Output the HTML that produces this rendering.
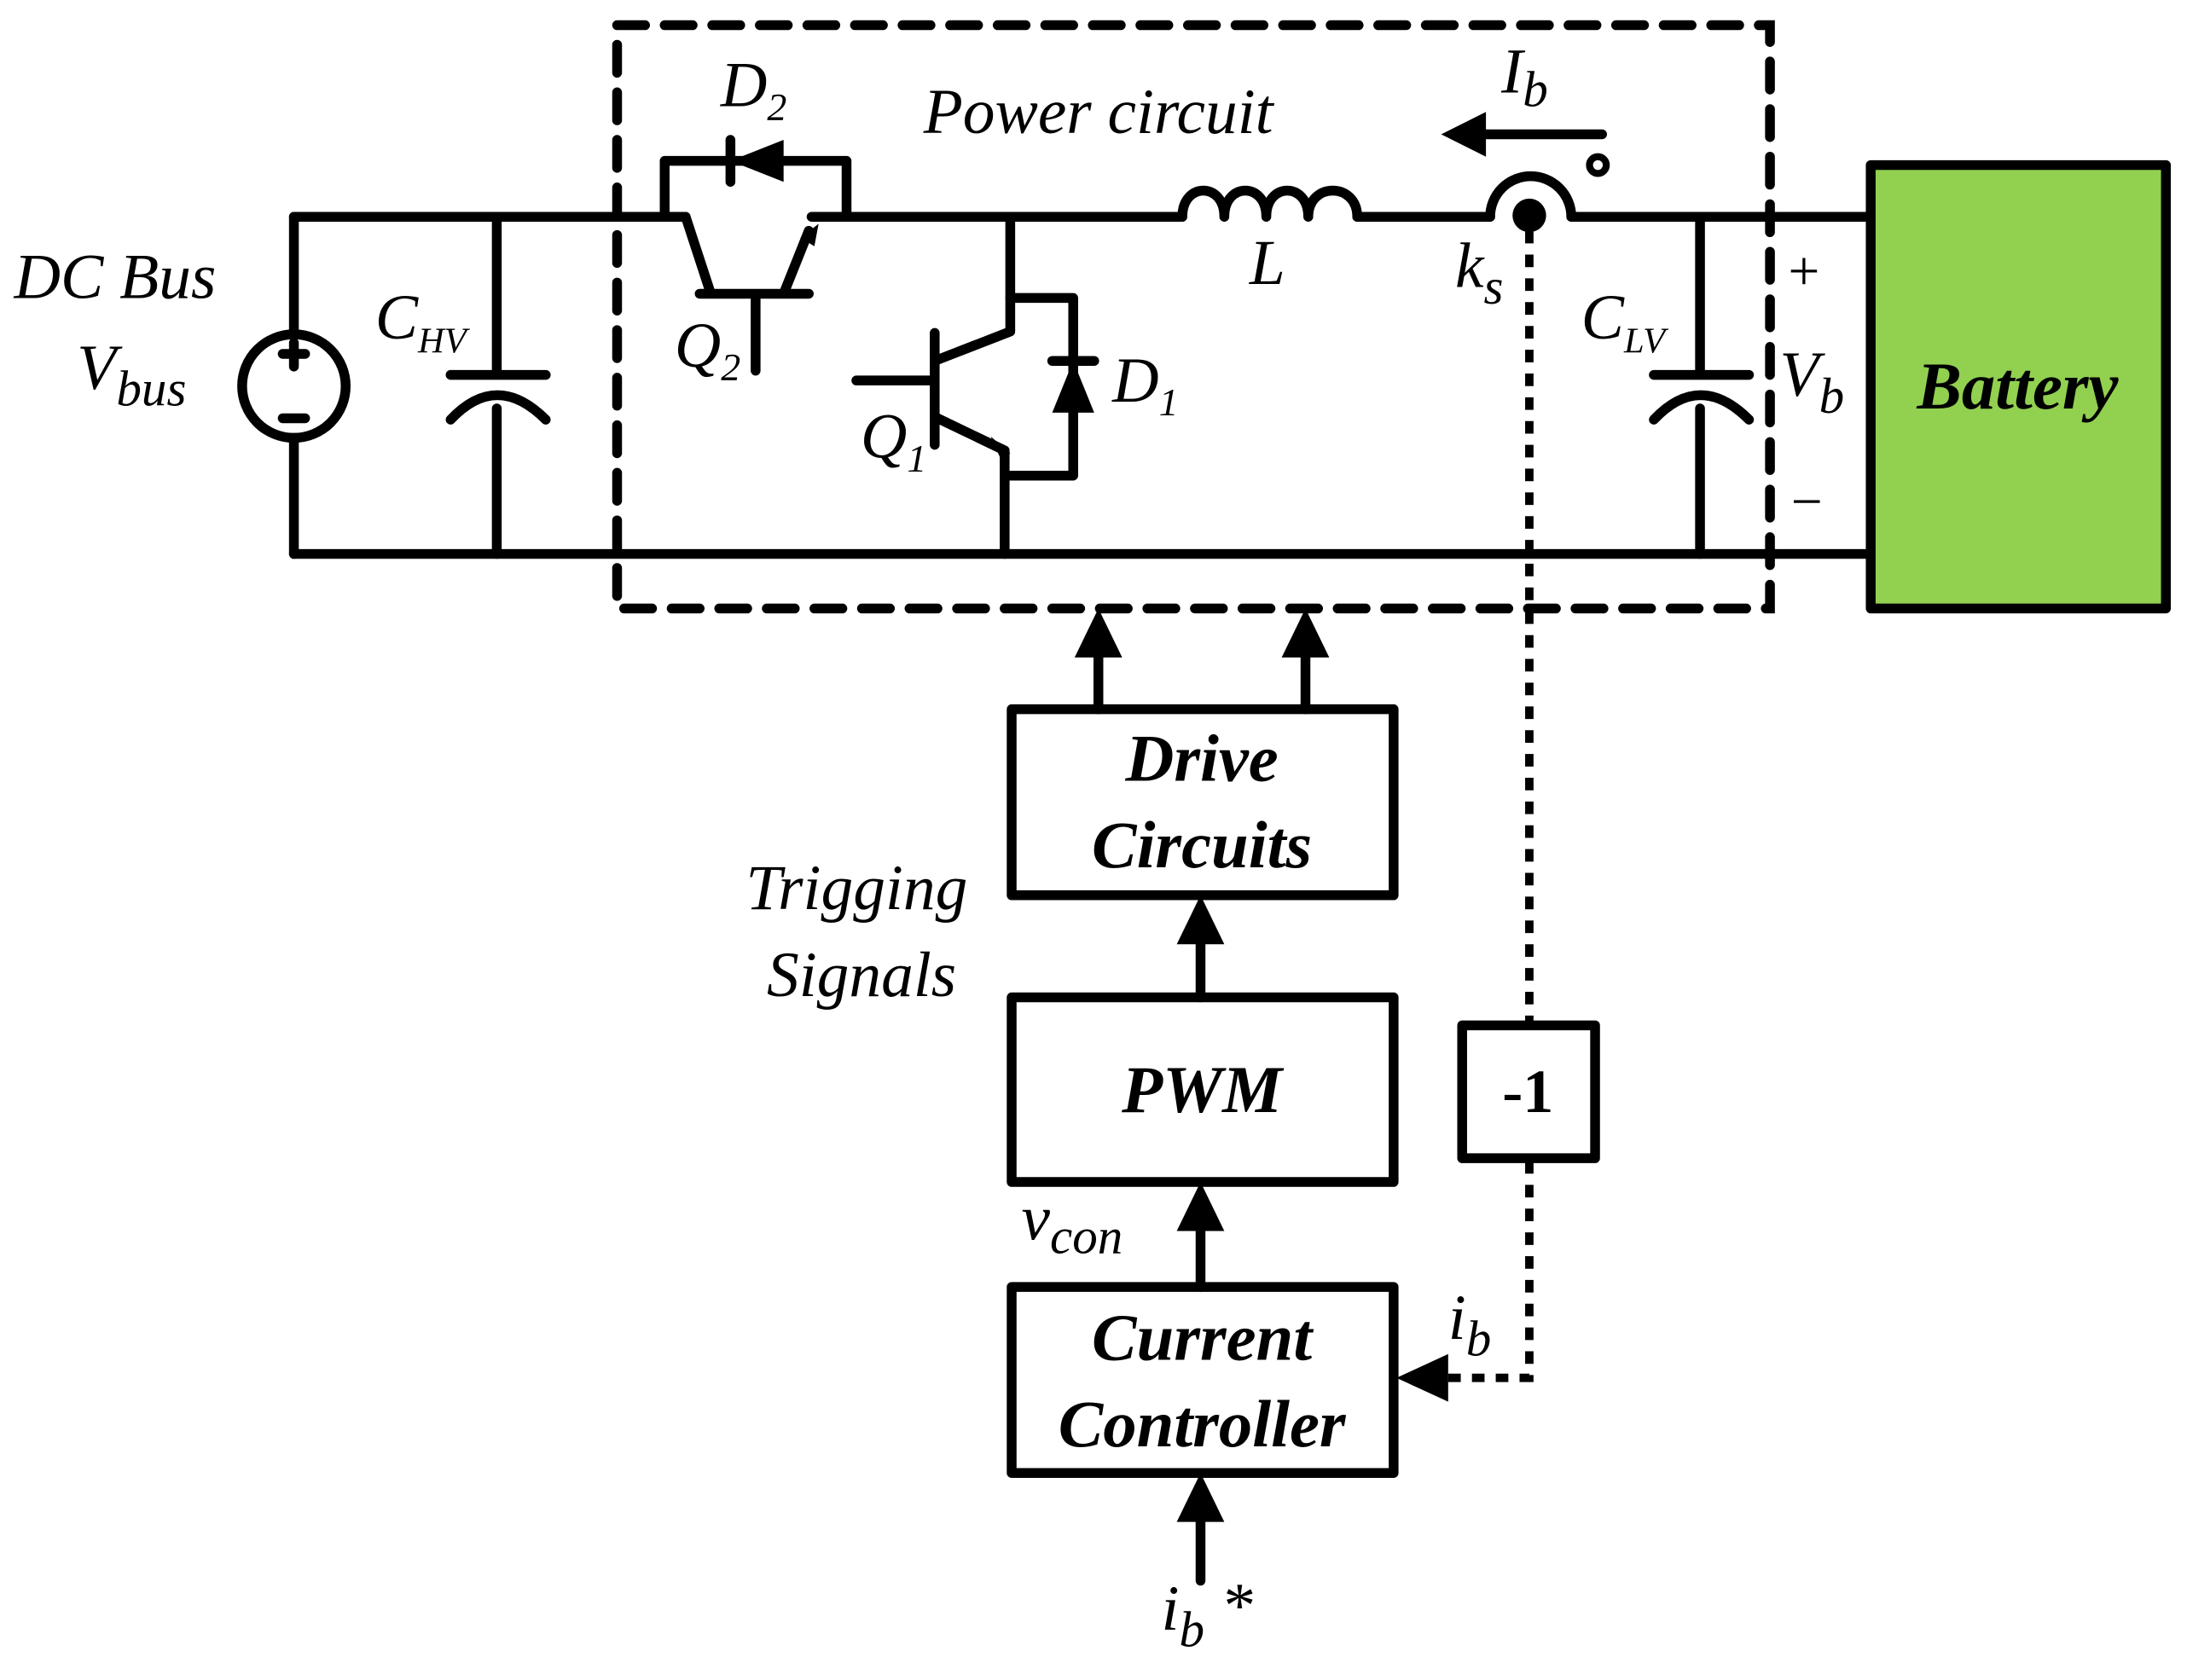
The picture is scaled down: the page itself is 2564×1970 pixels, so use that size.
<!DOCTYPE html>
<html><head><style>html,body{margin:0;padding:0;background:#fff}svg{display:block}svg text{font-family:"Liberation Serif","Times New Roman",serif}</style></head>
<body>
<svg width="2564" height="1970" viewBox="0 0 1563 1201" xmlns="http://www.w3.org/2000/svg">
<g stroke="#000" stroke-width="7" fill="none" stroke-linecap="round" stroke-linejoin="round">
<path d="M210 155 H490 M580 155 H845 M970 155 H1065 M1123 155 H1335"/>
<path d="M210 396 H1335"/>
<path d="M210 155 V238 M210 314 V396"/>
<circle cx="210" cy="276" r="37"/>
<path d="M210 245 V262 M202 253 H218 M202 299 H218"/>
<path d="M355 155 V266 M322 268 H390 M355 292 V396"/>
<path d="M322 300 Q355 265 390 300"/>
<path d="M475 155 V115 H605 V155"/>
<path d="M522 100 V130"/>
<path d="M490 155 L508 210 M500 210 H578 M540 210 V265 M560 210 L578 165"/>
<path d="M722 155 V237 L668 258 M668 238 V318 M612 272 H668 M668 298 L718 322 V396"/>
<path d="M722 213 H767 V340 H722"/>
<path d="M752 258 H782"/>
<path d="M845 155 C845 130 875 130 875 155 C875 130 905 130 905 155 C905 130 935 130 935 155 C935 130 970 130 970 155"/>
<path d="M1065 155 A29 29 0 0 1 1123 155"/>
<circle cx="1142" cy="118" r="6" stroke-width="5"/>
<path d="M1145 96 H1060"/>
<path d="M1215 155 V266 M1182 268 H1250 M1215 292 V396"/>
<path d="M1182 300 Q1215 265 1250 300"/>
<rect x="1337" y="118" width="211" height="317" fill="#92d050"/>
<rect x="723" y="507" width="273" height="133" fill="#fff"/>
<rect x="723" y="713" width="273" height="132" fill="#fff"/>
<rect x="723" y="920" width="273" height="133" fill="#fff"/>
<rect x="1045" y="733" width="95" height="95" fill="#fff"/>
<path d="M785 507 V460 M933 507 V460 M858 713 V665 M858 920 V870 M858 1130 V1078"/>
</g>
<rect x="441" y="18" width="824" height="417" fill="none" stroke="#000" stroke-width="7" stroke-dasharray="20 14" stroke-linecap="round"/>
<path d="M1093 165 V730 M1093 830 V985 H1030" fill="none" stroke="#000" stroke-width="6" stroke-dasharray="9 8"/>
<g fill="#000">
<polygon points="522,115 560,100 560,130"/>
<polygon points="767,258 752,295 782,295"/>
<polygon points="585,160 572,170 582,176"/>
<polygon points="722,324 708,312 716,330"/>
<circle cx="1093" cy="154" r="12"/>
<polygon points="1030,96 1062,80 1062,112"/>
<polygon points="785,435 768,470 802,470"/>
<polygon points="933,435 916,470 950,470"/>
<polygon points="858,640 841,675 875,675"/>
<polygon points="858,845 841,880 875,880"/>
<polygon points="858,1053 841,1088 875,1088"/>
<polygon points="998,985 1035,968 1035,1002"/>
</g>
<g font-style="italic" font-size="46" fill="#000">
<text x="10" y="213">DC  Bus</text>
<text x="55" y="278">V<tspan font-size="36" dy="12">bus</tspan></text>
<text x="268" y="242">C<tspan font-size="26" dy="10">HV</tspan></text>
<text x="515" y="76">D<tspan font-size="28" dy="10">2</tspan></text>
<text x="660" y="95">Power circuit</text>
<text x="1073" y="66">I<tspan font-size="36" dy="10">b</tspan></text>
<text x="482" y="262">Q<tspan font-size="28" dy="10">2</tspan></text>
<text x="615" y="327">Q<tspan font-size="28" dy="10">1</tspan></text>
<text x="795" y="287">D<tspan font-size="28" dy="10">1</tspan></text>
<text x="893" y="203">L</text>
<text x="1040" y="205">k<tspan font-size="36" dy="12">s</tspan></text>
<text x="1130" y="242">C<tspan font-size="26" dy="10">LV</tspan></text>
<text x="1272" y="283">V<tspan font-size="36" dy="12">b</tspan></text>
<text x="533" y="650">Trigging</text>
<text x="548" y="712">Signals</text>
<text x="730" y="886">v<tspan font-size="36" dy="10">con</tspan></text>
<text x="1035" y="957">i<tspan font-size="36" dy="12">b</tspan></text>
<text x="830" y="1165">i<tspan font-size="36" dy="12">b</tspan><tspan dy="-14"> *</tspan></text>
</g>
<g font-size="40" fill="#000">
<text x="1278" y="207">+</text>
<text x="1280" y="372">−</text>
</g>
<g font-style="italic" font-weight="bold" font-size="48" fill="#000" text-anchor="middle">
<text x="1442" y="292">Battery</text>
<text x="859" y="558">Drive</text>
<text x="859" y="620">Circuits</text>
<text x="859" y="795">PWM</text>
<text x="859" y="972">Current</text>
<text x="859" y="1034">Controller</text>
</g>
<text x="1092" y="795" font-weight="bold" font-size="44" text-anchor="middle">-1</text>
</svg>
</body></html>
